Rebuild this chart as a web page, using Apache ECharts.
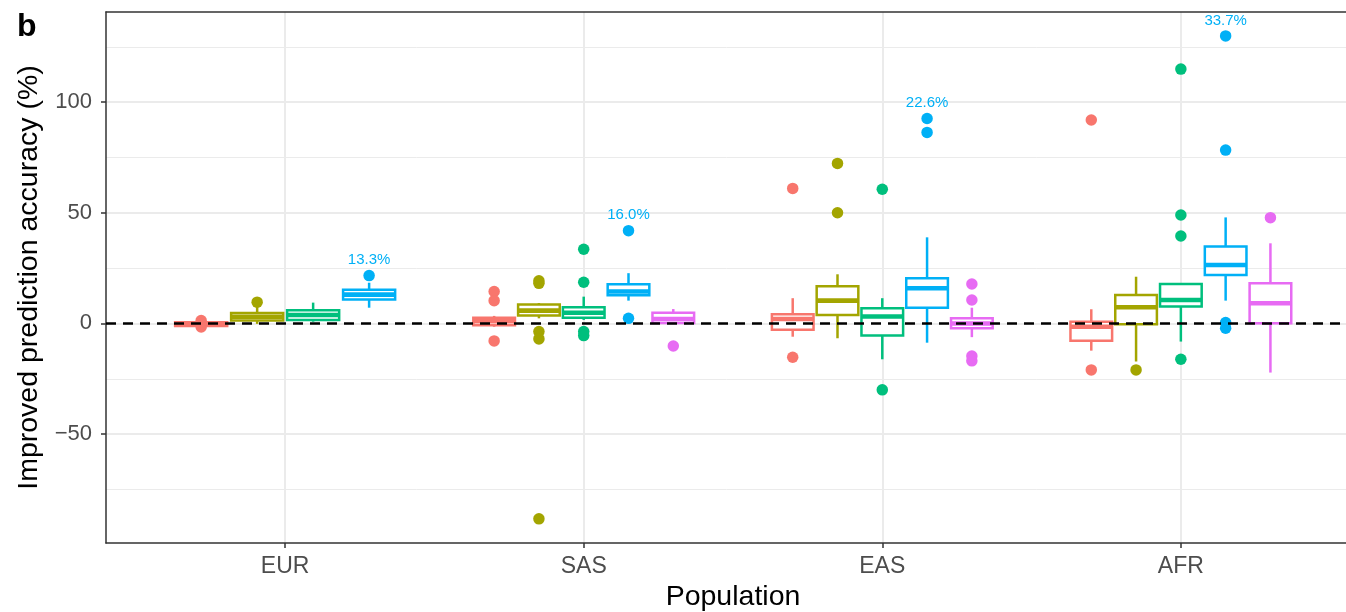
<!DOCTYPE html>
<html><head><meta charset="utf-8">
<script src="https://cdn.jsdelivr.net/npm/echarts@6/dist/echarts.min.js"></script>
<style>html,body{margin:0;padding:0;background:#fff}#c{width:1346px;height:612px}</style>
</head><body><div id="c"></div>
<script>
// ---- data ----
const populations = ['EUR', 'SAS', 'EAS', 'AFR'];
const yTickValues = [-50, 0, 50, 100];
const yMinorValues = [-75, -25, 25, 75, 125];
// box stats per population: [lower whisker, Q1, median, Q3, upper whisker]
const redBoxes = [[-1.3, -1.2, -0.4, 0.5, 0.8], [-1.5, -0.8, 1.0, 2.6, 3.4], [-6.0, -2.9, 2.0, 4.2, 11.4], [-12.3, -7.8, -1.5, 0.8, 6.4]];
const redOutliers = [[1.3, -1.6], [14.4, 10.3, -7.9], [61.0, -15.3], [91.9, -21.0]];
const oliveBoxes = [[-0.2, 1.3, 3.0, 4.7, 8.5], [2.3, 3.6, 5.8, 8.5, 9.2], [-6.7, 3.8, 10.3, 16.8, 22.2], [-17.2, -0.4, 7.3, 12.9, 21.1]];
const oliveOutliers = [[9.6], [19.3, 18.1, -3.7, -7.0, -88.3], [72.3, 50.0], [-21.0]];
const greenBoxes = [[0.8, 1.6, 3.8, 6.0, 9.4], [1.6, 2.6, 4.8, 7.3, 12.1], [-16.2, -5.5, 3.1, 6.9, 11.4], [-8.2, 7.6, 10.6, 17.8, 18.0]];
const greenOutliers = [[], [33.5, 18.6, -3.7, -5.5], [60.6, -30.0], [114.9, 49.0, 39.5, -16.2]];
const blueBoxes = [[7.1, 10.8, 13.0, 15.2, 18.4], [10.3, 12.7, 14.4, 17.7, 22.7], [-8.7, 7.1, 15.9, 20.4, 38.9], [10.3, 21.9, 26.4, 34.7, 47.9]];
const blueOutliers = [[21.6], [41.9, 2.3], [92.6, 86.3], [129.9, 78.3, 0.4, -2.2]];
const pinkBoxes = [null, [-0.3, 0.2, 2.0, 4.8, 6.5], [-6.2, -2.2, 0.0, 2.3, 7.1], [-22.2, 0.1, 9.1, 18.1, 36.2]];
const pinkOutliers = [[], [-10.2], [17.8, 10.6, -14.7, -16.9], [47.8]];
const blueLabels = ['13.3%', '16.0%', '22.6%', '33.7%'];

// ---- styling / layout ----
const groups = [
  { name: 'g1', color: '#F8766D', boxes: redBoxes, outliers: redOutliers },
  { name: 'g2', color: '#A3A500', boxes: oliveBoxes, outliers: oliveOutliers },
  { name: 'g3', color: '#00BF7D', boxes: greenBoxes, outliers: greenOutliers },
  { name: 'g4', color: '#00B0F6', boxes: blueBoxes, outliers: blueOutliers },
  { name: 'g5', color: '#E76BF3', boxes: pinkBoxes, outliers: pinkOutliers }
];
const FONT = '"Liberation Sans", Arial, Helvetica, sans-serif';
const DODGE = 0.75;

function dodge(gi, p) {
  const present = groups.map((g, i) => g.boxes[p] ? i : -1).filter(i => i >= 0);
  const n = present.length;
  const k = present.indexOf(gi);
  const slot = DODGE / n;
  return { x: p + 1 + (k - (n - 1) / 2) * slot, half: slot / 2 * 0.93 };
}

const series = [];
// gridlines (drawn beneath everything)
series.push({
  type: 'scatter', data: [], z: 0, silent: true,
  markLine: {
    z: 0, silent: true, symbol: ['none', 'none'], label: { show: false }, animation: false,
    data: [
      ...populations.map((_, i) => ({ xAxis: i + 1, lineStyle: { color: '#EBEBEB', width: 2, type: 'solid' } })),
      ...yTickValues.map(v => ({ yAxis: v, lineStyle: { color: '#EBEBEB', width: 2, type: 'solid' } })),
      ...yMinorValues.map(v => ({ yAxis: v, lineStyle: { color: '#EBEBEB', width: 1, type: 'solid' } }))
    ]
  }
});

groups.forEach((g, gi) => {
  const boxData = [];
  const pts = [];
  g.boxes.forEach((b, p) => {
    if (!b) return;
    const d = dodge(gi, p);
    boxData.push([d.x, b[0], b[1], b[2], b[3], b[4], d.half]);
    g.outliers[p].forEach(v => pts.push([d.x, v]));
  });
  series.push({
    type: 'custom', name: g.name, z: 2, data: boxData,
    encode: { x: 0, y: [1, 2, 3, 4, 5] },
    renderItem: function (params, api) {
      const x = api.value(0);
      const hw = api.size([api.value(6), 0])[0];
      const lo = api.coord([x, api.value(1)]);
      const q1 = api.coord([x, api.value(2)]);
      const md = api.coord([x, api.value(3)]);
      const q3 = api.coord([x, api.value(4)]);
      const hi = api.coord([x, api.value(5)]);
      const st = { stroke: g.color, lineWidth: 2.5, fill: null };
      return {
        type: 'group', children: [
          { type: 'line', shape: { x1: q3[0], y1: q3[1], x2: hi[0], y2: hi[1] }, style: st },
          { type: 'line', shape: { x1: q1[0], y1: q1[1], x2: lo[0], y2: lo[1] }, style: st },
          { type: 'rect', shape: { x: q3[0] - hw, y: q3[1], width: 2 * hw, height: q1[1] - q3[1] }, style: { stroke: g.color, lineWidth: 2.5, fill: '#fff' } },
          { type: 'line', shape: { x1: md[0] - hw, y1: md[1], x2: md[0] + hw, y2: md[1] }, style: { stroke: g.color, lineWidth: 4.6 } }
        ]
      };
    }
  });
  series.push({
    type: 'scatter', name: g.name, z: 3, data: pts, symbolSize: 11.5,
    itemStyle: { color: g.color, opacity: 1 }
  });
});

// blue percentage labels, placed above the highest blue value
const labelData = blueLabels.map((t, p) => {
  const d = dodge(3, p);
  const top = Math.max(blueBoxes[p][4], ...blueOutliers[p]);
  return [d.x, top, t];
});
series.push({
  type: 'custom', z: 5, data: labelData, encode: { x: 0, y: 1 },
  renderItem: function (params, api) {
    const c = api.coord([api.value(0), api.value(1)]);
    return {
      type: 'text', x: c[0], y: c[1] - 15.5,
      style: { text: labelData[params.dataIndex][2], fill: '#00B0F6', font: '15px ' + FONT, align: 'center', verticalAlign: 'middle' }
    };
  }
});
// dashed zero line (on top)
series.push({
  type: 'scatter', data: [], z: 6, silent: true,
  markLine: {
    z: 10, silent: true, symbol: ['none', 'none'], label: { show: false }, animation: false,
    data: [{ yAxis: 0, lineStyle: { color: '#000', width: 2.5, type: [10, 7] } }]
  }
});

const frameLine = { show: true, onZero: false, lineStyle: { color: '#333', width: 1.5 } };
const chart = echarts.init(document.getElementById('c'), null, { renderer: 'canvas' });
chart.setOption({
  animation: false,
  backgroundColor: '#fff',
  textStyle: { fontFamily: FONT },
  title: { text: 'b', left: 12, top: 6, textStyle: { fontSize: 32, fontWeight: 'bold', color: '#000', fontFamily: FONT } },
  grid: { left: 106, top: 12, width: 1254, height: 531, show: false, outerBoundsMode: 'none', containLabel: false },
  xAxis: [{
    type: 'value', min: 0.4, max: 4.6, position: 'bottom',
    name: 'Population', nameLocation: 'middle', nameGap: 40,
    nameTextStyle: { fontSize: 28.5, color: '#000', fontFamily: FONT },
    axisLine: frameLine,
    axisTick: { show: true, customValues: [1, 2, 3, 4], length: 5, lineStyle: { color: '#333', width: 1.5 } },
    axisLabel: { customValues: [1, 2, 3, 4], formatter: v => populations[Math.round(v) - 1], fontSize: 23, color: '#4D4D4D', margin: 12, fontFamily: FONT },
    splitLine: { show: false }
  }, {
    type: 'value', min: 0.4, max: 4.6, position: 'top',
    axisLine: frameLine, axisTick: { show: false }, axisLabel: { show: false }, splitLine: { show: false }
  }],
  yAxis: {
    type: 'value', min: -99.2, max: 140.7, position: 'left',
    name: 'Improved prediction accuracy (%)', nameLocation: 'middle', nameGap: 60, nameRotate: 90,
    nameTextStyle: { fontSize: 28.5, color: '#000', fontFamily: FONT },
    axisLine: frameLine,
    axisTick: { show: true, customValues: yTickValues, length: 5, lineStyle: { color: '#333', width: 1.5 } },
    axisLabel: { customValues: yTickValues, formatter: v => (v < 0 ? '\u2212' + Math.abs(v) : String(v)), fontSize: 22, color: '#4D4D4D', margin: 14, fontFamily: FONT },
    splitLine: { show: false }
  },
  series: series
});
</script></body></html>
